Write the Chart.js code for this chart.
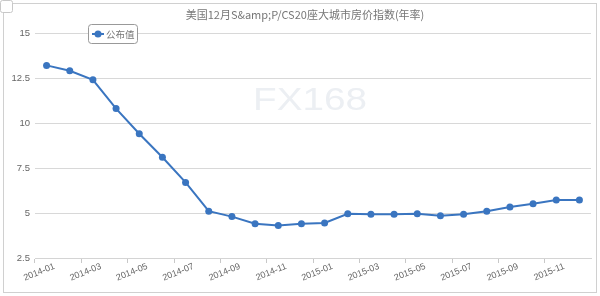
<!DOCTYPE html>
<html>
<head>
<meta charset="utf-8">
<script src="https://cdn.jsdelivr.net/npm/chart.js@4"></script>
<style>
  html, body { margin: 0; padding: 0; background: #fff; }
  #wrap { width: 600px; height: 296px; position: relative; }
</style>
</head>
<body>
<div id="wrap"><canvas id="chart" width="600" height="296"></canvas></div>
<script>

// data
const months = ['2014-01','2014-02','2014-03','2014-04','2014-05','2014-06','2014-07','2014-08','2014-09','2014-10','2014-11','2014-12',
                '2015-01','2015-02','2015-03','2015-04','2015-05','2015-06','2015-07','2015-08','2015-09','2015-10','2015-11','2015-12'];
const published = [13.2, 12.9, 12.4, 10.8, 9.4, 8.1, 6.7, 5.1, 4.8, 4.4, 4.3, 4.4,
                   4.45, 4.96, 4.93, 4.93, 4.96, 4.85, 4.93, 5.1, 5.33, 5.52, 5.72, 5.72];
const seriesName = '公布值';
const chartTitle = '美国12月S&amp;P/CS20座大城市房价指数(年率)';
const watermark = 'FX168';

const blue = '#3a75c0';
const gray = '#666';

// frame, watermark, title and the floating legend
const decor = {
    id: 'decor',
    beforeDraw: (chart) => {
        const ctx = chart.ctx;
        ctx.save();
        ctx.fillStyle = '#fff';
        ctx.fillRect(0, 0, chart.width, chart.height);
        ctx.strokeStyle = '#d0d0d0';
        ctx.lineWidth = 1;
        ctx.strokeRect(3.5, 3.5, 593, 289);
        ctx.strokeStyle = '#c8c8c8';
        ctx.beginPath();
        ctx.roundRect(0.5, 0.5, 12, 12, 2);
        ctx.fillStyle = '#fff';
        ctx.fill();
        ctx.stroke();

        // watermark
        ctx.fillStyle = '#eceff3';
        ctx.font = '32px "Liberation Sans", Arial, sans-serif';
        ctx.textBaseline = 'alphabetic';
        const w = ctx.measureText(watermark).width;
        ctx.translate(253, 110);
        ctx.scale(114 / w, 1);
        ctx.fillText(watermark, 0, 0);
        ctx.restore();
    },
    afterDraw: (chart) => {
        const ctx = chart.ctx;
        ctx.save();
        ctx.fillStyle = '#777';
        ctx.font = '11px "Noto Sans CJK SC", sans-serif';
        ctx.textAlign = 'center';
        ctx.textBaseline = 'middle';
        ctx.fillText(chartTitle, 305, 15);

        // legend box
        ctx.beginPath();
        ctx.roundRect(88.5, 24.5, 49, 19, 3);
        ctx.fillStyle = '#fff';
        ctx.fill();
        ctx.strokeStyle = '#999';
        ctx.lineWidth = 1;
        ctx.stroke();
        const ds = chart.data.datasets[0];
        ctx.strokeStyle = ds.borderColor;
        ctx.lineWidth = 2;
        ctx.beginPath();
        ctx.moveTo(92, 34);
        ctx.lineTo(104, 34);
        ctx.stroke();
        ctx.beginPath();
        ctx.arc(98, 34, 3.5, 0, Math.PI * 2);
        ctx.fillStyle = ds.backgroundColor;
        ctx.fill();
        ctx.fillStyle = '#777';
        ctx.font = '9.5px "Noto Sans CJK SC", sans-serif';
        ctx.textAlign = 'left';
        ctx.fillText(ds.label, 106, 34);
        ctx.restore();
    }
};

const ctx = document.getElementById('chart').getContext('2d');
const myChart = new Chart(ctx, {
    type: 'line',
    data: {
        labels: months,
        datasets: [{
            label: seriesName,
            data: published,
            borderColor: blue,
            backgroundColor: blue,
            borderWidth: 2,
            pointRadius: 3.5,
            pointBorderWidth: 0,
            pointBackgroundColor: blue,
            tension: 0,
        }]
    },
    options: {
        responsive: false,
        animation: false,
        layout: {
            padding: { top: 33, right: 9, left: 0, bottom: 0 }
        },
        scales: {
            x: {
                offset: true,
                afterFit: (scale) => { scale.height = 38; },
                grid: {
                    offset: true,
                    drawOnChartArea: false,
                    tickLength: 5,
                    color: (c) => c.index % 2 === 0 ? '#c8c8c8' : 'rgba(0,0,0,0)',
                },
                border: { display: true, color: '#d4d4d4' },
                ticks: {
                    autoSkip: false,
                    minRotation: 22,
                    maxRotation: 22,
                    labelOffset: 8,
                    padding: -2,
                    color: gray,
                    font: { size: 9, family: '"Liberation Sans Narrow", "Liberation Sans", Arial, sans-serif' },
                    callback: function (val, i) {
                        return i % 2 === 0 ? this.getLabelForValue(val) : '';
                    }
                }
            },
            y: {
                min: 2.5,
                max: 15,
                afterFit: (scale) => { scale.width = 35; },
                grid: {
                    color: '#d8d8d8',
                    drawTicks: false,
                },
                border: { display: false },
                ticks: {
                    stepSize: 2.5,
                    padding: 5,
                    color: gray,
                    font: { size: 9.5, family: '"Liberation Sans", Arial, sans-serif' },
                }
            }
        },
        plugins: {
            legend: { display: false },
            title: { display: false },
            tooltip: { enabled: false }
        }
    },
    plugins: [decor]
});

</script>
</body>
</html>
